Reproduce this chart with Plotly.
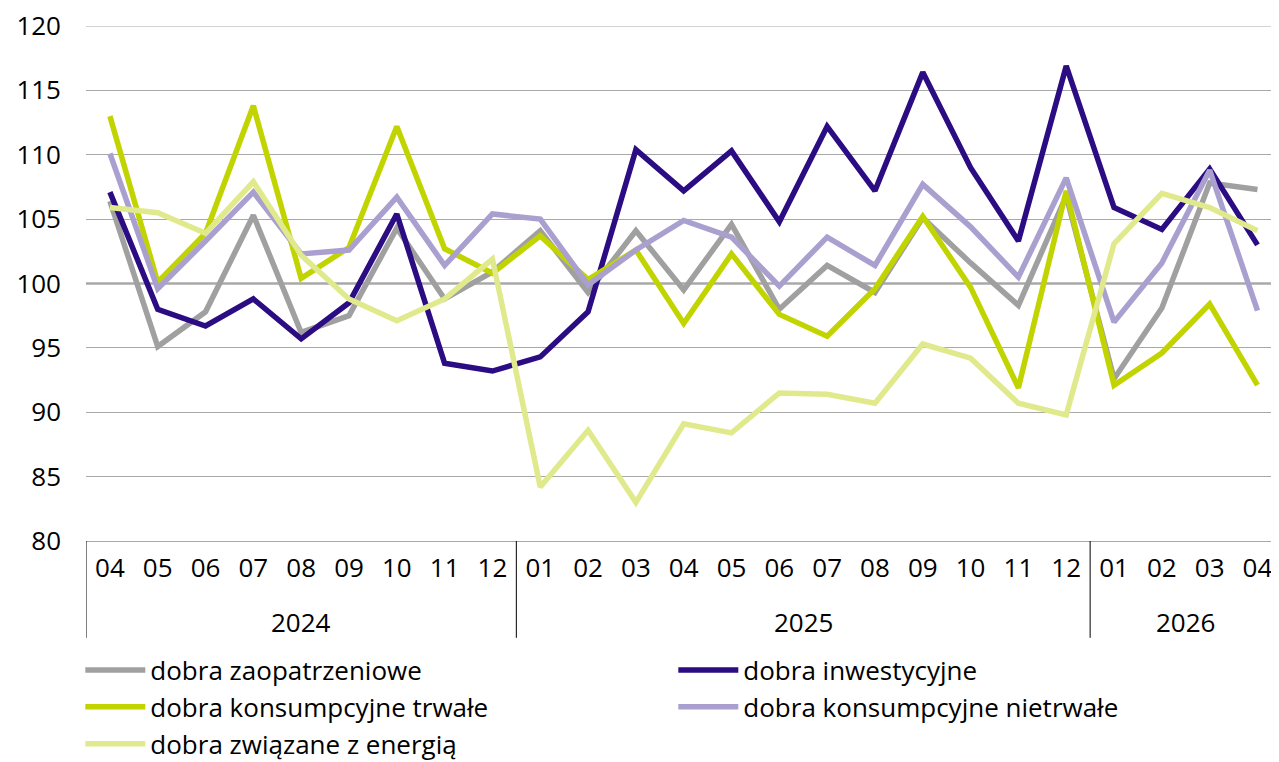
import plotly.graph_objects as go

years = ["2024", "2025", "2026"]
year_counts = [9, 12, 4]
months = ["04", "05", "06", "07", "08", "09", "10", "11", "12",
          "01", "02", "03", "04", "05", "06", "07", "08", "09", "10", "11", "12",
          "01", "02", "03", "04"]

zaopatrzeniowe = [106.4, 95.1, 97.8, 105.3, 96.2, 97.5, 104.3, 98.8, 100.9,
                  104.1, 99.3, 104.1, 99.5, 104.6, 98.0, 101.4, 99.3, 105.1, 101.6, 98.3, 106.8,
                  92.6, 98.1, 107.8, 107.3]
inwestycyjne = [107.1, 98.0, 96.7, 98.8, 95.7, 98.5, 105.4, 93.8, 93.2,
                94.3, 97.8, 110.4, 107.2, 110.3, 104.8, 112.2, 107.2, 116.4, 109.0, 103.3, 116.9,
                105.9, 104.2, 108.9, 103.0]
trwale = [113.0, 100.1, 103.9, 113.8, 100.4, 102.8, 112.2, 102.7, 100.8,
          103.7, 100.3, 102.6, 96.9, 102.3, 97.6, 95.9, 99.6, 105.2, 99.7, 91.9, 107.2,
          92.1, 94.6, 98.4, 92.1]
nietrwale = [110.1, 99.6, 103.3, 107.1, 102.3, 102.6, 106.7, 101.4, 105.4,
             105.0, 99.9, 102.6, 104.9, 103.6, 99.8, 103.6, 101.4, 107.7, 104.4, 100.5, 108.2,
             97.0, 101.6, 108.8, 97.9]
energia = [105.9, 105.5, 103.9, 107.9, 102.2, 98.8, 97.1, 98.8, 101.9,
           84.2, 88.6, 83.0, 89.1, 88.4, 91.5, 91.4, 90.7, 95.3, 94.2, 90.7, 89.8,
           103.1, 107.0, 105.9, 104.1]

series_names = ["dobra zaopatrzeniowe", "dobra inwestycyjne", "dobra konsumpcyjne trwałe",
                "dobra konsumpcyjne nietrwałe", "dobra związane z energią"]
series_values = [zaopatrzeniowe, inwestycyjne, trwale, nietrwale, energia]
series_colors = ["#a0a0a0", "#2b0c82", "#c2d400", "#aaa0d0", "#e0ea8c"]

FONT = "'Open Sans', 'Noto Sans', sans-serif"
FS = 26

x_idx = list(range(len(months)))

fig = go.Figure()
for name, vals, col in zip(series_names, series_values, series_colors):
    fig.add_trace(go.Scatter(
        x=x_idx, y=vals, name=name, mode="lines",
        line=dict(color=col, width=5.5), cliponaxis=False,
    ))

# reference line at 100 and top grid line at 120
fig.add_shape(type="line", xref="paper", x0=0, x1=1, yref="y", y0=100, y1=100,
              line=dict(color="black", width=1.3), layer="between")
fig.add_shape(type="line", xref="paper", x0=0, x1=1, yref="y", y0=120, y1=120,
              line=dict(color="#a8a8a8", width=1), layer="below")

# year group dividers and labels
DIV_BOTTOM = -0.188
start = 0
bounds = [-0.5]
for yr, cnt in zip(years, year_counts):
    center = start + (cnt - 1) / 2
    fig.add_annotation(x=center, xref="x", y=-0.157, yref="paper", text=yr,
                       showarrow=False, yanchor="middle", xanchor="center",
                       font=dict(size=FS, family=FONT, color="black"))
    start += cnt
    bounds.append(start - 0.5)
for b in bounds[:-1]:
    fig.add_shape(type="line", xref="x", x0=b, x1=b, yref="paper", y0=0, y1=DIV_BOTTOM,
                  line=dict(color="black", width=1))

fig.update_layout(
    width=1271, height=754,
    margin=dict(l=78, r=0, t=18, b=221, autoexpand=False),
    plot_bgcolor="white", paper_bgcolor="white",
    font=dict(family=FONT, size=FS, color="black"),
    showlegend=True,
    legend=dict(
        orientation="h", xref="container", x=0.0569, xanchor="left",
        yref="container", y=0.153, yanchor="top",
        entrywidth=518, entrywidthmode="pixels",
        font=dict(size=FS, family=FONT, color="black"), itemwidth=60,
        tracegroupgap=0, traceorder="normal", bgcolor="rgba(0,0,0,0)",
    ),
    xaxis=dict(
        range=[-0.5, 24.45], tickmode="array", tickvals=x_idx, ticktext=months,
        showgrid=False, zeroline=False,
        showline=True, linecolor="#a8a8a8", linewidth=1,
        ticks="", ticklabelstandoff=4, ticklabeloverflow="allow",
        tickfont=dict(size=FS, family=FONT),
    ),
    yaxis=dict(
        range=[80, 120], dtick=5, tick0=80, showgrid=True, gridcolor="#a8a8a8", gridwidth=1,
        zeroline=False, showline=False, ticks="", ticklabelstandoff=24,
        ticklabeloverflow="allow", tickfont=dict(size=FS, family=FONT),
    ),
)

fig.write_html("out.html")
